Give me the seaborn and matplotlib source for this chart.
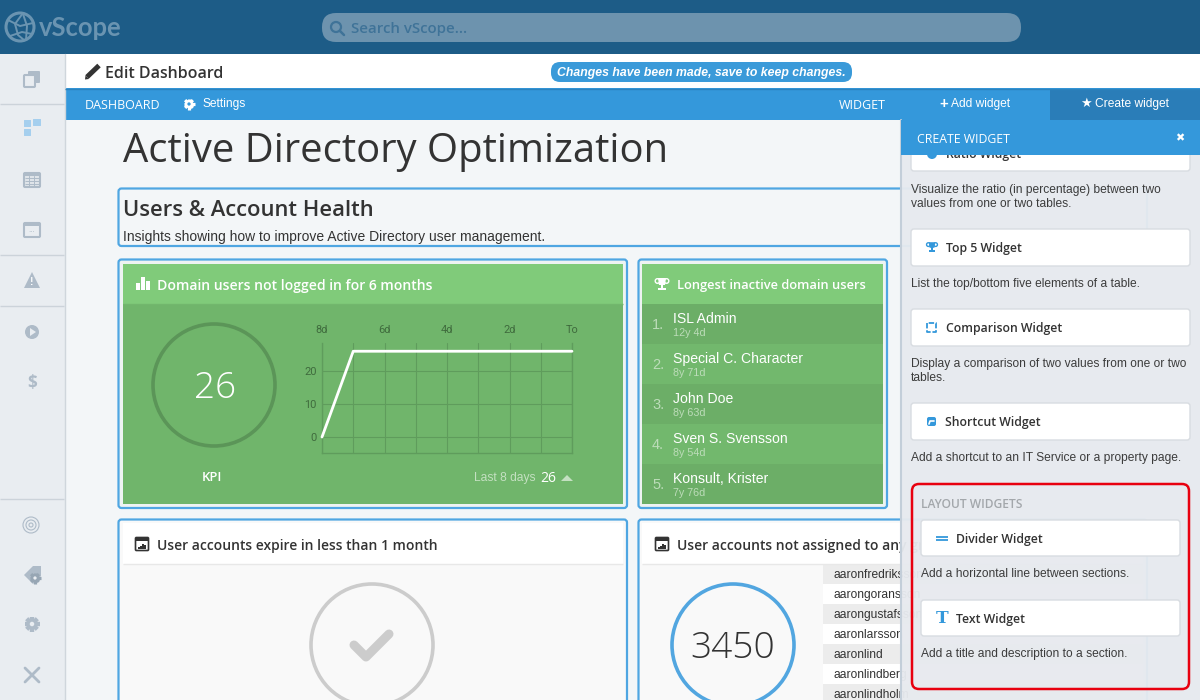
import matplotlib
matplotlib.use('Agg')
import matplotlib.pyplot as plt
from matplotlib.patches import Rectangle, FancyBboxPatch, Circle, Polygon
import numpy as np
import pandas as pd
import seaborn as sns

# Chart data
days_ago = [8, 7, 6, 5, 4, 3, 2, 1, 0]
users_not_logged_in = [0, 26, 26, 26, 26, 26, 26, 26, 26]
x_tick_days = [8, 6, 4, 2, 0]
x_tick_labels = ['8d', '6d', '4d', '2d', 'To']
y_ticks = [0, 10, 20]

# Top 5 list
top_names = ['ISL Admin', 'Special C. Character', 'John Doe', 'Sven S. Svensson', 'Konsult, Krister']
top_ages = ['12y 4d', '8y 71d', '8y 63d', '8y 54d', '7y 76d']
table_names = ['aaronfredriksson', 'aarongoransson', 'aarongustafsson', 'aaronlarsson',
               'aaronlind', 'aaronlindberg', 'aaronlindholm']

BLUE = '#3498db'
CARD_EDGE = '#4fa6e2'
HEAD_GREEN = '#80cb7a'
BODY_GREEN = '#70b56b'
ICON = '#aebbc8'
DARK = '#333333'
BODY_TEXT = '#3c3c3c'
OPEN = 'Open Sans'
ARIAL = 'Liberation Sans'

sns.set_theme(style='white')

fig = plt.figure(figsize=(12, 7), dpi=100, facecolor='#f3f6f8')
ax = fig.add_axes([0, 0, 1, 1])
ax.set_xlim(0, 1200)
ax.set_ylim(700, 0)
ax.axis('off')


def rect(x0, y0, x1, y1, color, z=1, alpha=None):
    ax.add_patch(Rectangle((x0, y0), x1 - x0, y1 - y0, fc=color, ec='none', zorder=z, alpha=alpha))


def rbox(x0, y0, x1, y1, fc, ec='none', lw=0, r=4, z=1):
    ax.add_patch(FancyBboxPatch((x0, y0), x1 - x0, y1 - y0, boxstyle=f'round,pad=0,rounding_size={r}',
                                fc=fc, ec=ec, lw=lw, zorder=z))


def txt(x, y, s, px, color=DARK, family=ARIAL, z=5, ha='left', **kw):
    # px sizes are converted for dpi 100, both fonts sit a bit high when centred
    y = y + (px * 0.12 if family == OPEN else 0.7)
    ax.text(x, y, s, fontsize=px * 0.72, color=color, family=family, ha=ha, va='center', zorder=z, **kw)


def hline(x0, x1, y, color, lw=1, z=2):
    ax.plot([x0, x1], [y, y], color=color, lw=lw, zorder=z, solid_capstyle='butt')


def ring(cx, cy, r, color, lw, z=3):
    ax.add_patch(Circle((cx, cy), r, fc='none', ec=color, lw=lw, zorder=z))


def gear(x, y, r, color, hole, z=5):
    ax.add_patch(Circle((x, y), r * 0.75, fc=color, ec='none', zorder=z))
    for a in np.arange(0, np.pi, np.pi / 4):
        dx, dy = r * np.cos(a), r * np.sin(a)
        ax.plot([x - dx, x + dx], [y - dy, y + dy], color=color, lw=r * 0.42, zorder=z, solid_capstyle='butt')
    ax.add_patch(Circle((x, y), r * 0.3, fc=hole, ec='none', zorder=z + 0.5))


def trophy(x, y, color, s=1.0, z=5):
    ax.add_patch(Polygon([(x - 4 * s, y - 6 * s), (x + 4 * s, y - 6 * s), (x + 3 * s, y + s), (x - 3 * s, y + s)],
                         fc=color, ec='none', zorder=z))
    ring(x - 4.5 * s, y - 3 * s, 2.3 * s, color, 1, z)
    ring(x + 4.5 * s, y - 3 * s, 2.3 * s, color, 1, z)
    rect(x - s, y, x + s, y + 4 * s, color, z)
    rect(x - 4 * s, y + 4 * s, x + 4 * s, y + 6 * s, color, z)


def cal_icon(x, y):
    rbox(x - 6.5, y - 6.5, x + 6.5, y + 6.5, 'white', '#333333', 1.2, 1, 6)
    rect(x - 6.5, y - 6.5, x + 6.5, y - 3, '#333333', 6)
    for dx, h in [(-3, 2), (-1, 3), (1, 5), (3, 4)]:
        rect(x + dx - 0.6, y + 5 - h, x + dx + 0.6, y + 5, '#333333', 6)


# --- top bar
rect(0, 0, 1200, 54, '#1d5c87')
rbox(322, 13, 1021, 42, '#6d93ae', r=14)
ring(336, 27, 5, '#3f7398', 1.6)
ax.plot([340, 344], [31, 35], color='#3f7398', lw=1.8, zorder=3)
txt(351, 27, 'Search vScope...', 15, '#3f7398', OPEN, weight='semibold')
ring(20, 27, 14, '#6a94b1', 2.2)
ax.plot([8, 20, 33], [20, 26, 23], color='#6a94b1', lw=1.4, zorder=3)
ax.plot([10, 22, 32], [36, 32, 34], color='#6a94b1', lw=1.4, zorder=3)
ax.plot([23, 15, 18, 24], [13, 24, 35, 40], color='#6a94b1', lw=1.4, zorder=3)
ax.plot([23, 27, 26], [14, 26, 40], color='#6a94b1', lw=1.4, zorder=3)
txt(39, 27, 'vScope', 25.5, '#6a94b1', 'Lato', weight='bold')

# --- sidebar
rect(0, 54, 65, 700, '#e9edf1')
ax.plot([64.5, 64.5], [54, 700], color='#cfd6dc', lw=1, zorder=2)
for yy in [104, 255, 306, 499]:
    hline(0, 64, yy, '#ccd3da')
rbox(28, 71, 40, 83, ICON, r=1, z=3)
rbox(24, 75, 35, 87, '#e9edf1', ICON, 1.5, 1, 3)
rbox(24, 120, 31, 127, '#a5cfee', r=0.5, z=3)
rbox(33, 119, 41, 126, '#a5cfee', r=0.5, z=3)
rbox(24, 129, 31, 136, '#a5cfee', r=0.5, z=3)
rbox(24, 173, 40, 187, '#dfe4e9', ICON, 1.5, 1, 3)
rect(24, 173, 40, 176, ICON, 4)
for yy in [178, 181, 184]:
    hline(25, 39, yy, ICON, 0.7, 4)
for xx in [29, 34]:
    ax.plot([xx, xx], [176, 187], color=ICON, lw=0.7, zorder=4)
rbox(24, 223, 40, 237, '#e9edf1', ICON, 1.5, 1, 3)
rect(24, 223, 40, 226, ICON, 4)
txt(32, 230, '...', 8, ICON, ha='center')
ax.add_patch(Polygon([(32, 272), (40, 288), (24, 288)], fc=ICON, ec='none', zorder=3))
txt(32, 281, '!', 10, 'white', ha='center', weight='bold')
ax.add_patch(Circle((32, 332), 7, fc=ICON, ec='none', zorder=3))
ax.add_patch(Polygon([(30, 328), (36, 332), (30, 336)], fc='#e9edf1', ec='none', zorder=4))
txt(32, 381, '$', 17, ICON, ha='center', weight='bold', family=OPEN)
for r in [8, 5, 2]:
    ring(31, 525, r, ICON, 0.8)
ax.add_patch(Polygon([(24, 575), (33, 566), (41, 566), (41, 576), (33, 584)], fc=ICON, ec='none', zorder=3))
gear(35, 578, 5.5, '#97a6b4', '#e9edf1')
gear(32, 624, 7.5, ICON, '#e9edf1')
ax.plot([25, 39], [668, 682], color=ICON, lw=2, zorder=3)
ax.plot([39, 25], [668, 682], color=ICON, lw=2, zorder=3)

# --- edit bar and nav
rect(65, 54, 1200, 88, 'white')
ax.plot([87, 99], [77, 65.5], color=DARK, lw=3.6, zorder=5, solid_capstyle='butt')
ax.add_patch(Polygon([(85, 79.5), (85.5, 75.5), (89, 79)], fc=DARK, ec='none', zorder=5))
txt(105, 72, 'Edit Dashboard', 16, DARK, OPEN, weight='semibold')
rbox(551, 62, 852, 82, '#3a9ad9', r=9)
txt(701.5, 72, 'Changes have been made, save to keep changes.', 12.2, 'white', ha='center',
    weight='bold', style='italic')
rect(65, 88, 1200, 120, BLUE)
hline(65, 1200, 88.5, '#2b83bf')
rect(1050, 90, 1200, 120, '#2a7db8')
txt(85, 104, 'DASHBOARD', 12.5, 'white', OPEN)
gear(189, 104, 5.5, 'white', BLUE)
txt(203, 103.5, 'Settings', 12, 'white')
txt(839, 104, 'WIDGET', 12.5, 'white', OPEN)
txt(944, 103, '+', 15, 'white', ha='center', weight='bold')
txt(951, 103.5, 'Add widget', 12, 'white')
txt(1086, 103, '\u2605', 13, 'white', 'DejaVu Sans', ha='center')
txt(1095, 103.5, 'Create widget', 12, 'white')

# --- page
txt(123, 147, 'Active Directory Optimization', 40, DARK, OPEN)
rbox(118.5, 188.5, 1147, 246, '#f3f6f8', CARD_EDGE, 1.6, 3)
txt(123, 208, 'Users & Account Health', 22, DARK, OPEN, weight='semibold')
txt(123, 236, 'Insights showing how to improve Active Directory user management.', 13.95, DARK)

# card 1
rbox(118.5, 259.5, 627, 508, '#eef3f2', CARD_EDGE, 1.6, 3)
rect(123, 264, 623, 304, HEAD_GREEN, 2)
rect(123, 304, 623, 504, BODY_GREEN, 2)
hline(123, 623, 304, '#72b76d', 1, 3)
for x0, h in [(136, 7), (141, 13), (146, 9)]:
    rect(x0, 290 - h, x0 + 4, 290, 'white', 4)
txt(157, 284, 'Domain users not logged in for 6 months', 14, 'white', OPEN, weight='semibold')
ring(214, 385, 61, '#5b9558', 2.6)
txt(215, 384, '26', 37, 'white', OPEN, ha='center', weight='light')
txt(212, 476, 'KPI', 13, 'white', OPEN, ha='center', weight='semibold')
txt(474, 477, 'Last 8 days', 12, '#c4e0c1')
txt(540, 477, '26', 14, 'white', OPEN)
ax.add_patch(Polygon([(561, 481), (567, 475), (573, 481)], fc='#c4e0c1', ec='none', zorder=5))

# card 2
rbox(638.5, 259.5, 887, 508, '#eef3f2', CARD_EDGE, 1.6, 3)
rect(642, 264, 883, 304, HEAD_GREEN, 2)
trophy(662, 284, 'white')
txt(677, 284, 'Longest inactive domain users', 12.9, 'white', OPEN, weight='semibold')
for i, (name, age) in enumerate(zip(top_names, top_ages)):
    y0 = 304 + i * 40
    rect(642, y0, 883, y0 + 40, '#6cae67' if i % 2 == 0 else '#72b86d', 2)
    txt(652, y0 + 20, f'{i + 1}.', 14.5, '#bcdcb9')
    txt(673, y0 + 14, name, 14, 'white')
    txt(673, y0 + 28, age, 10.8, '#bcdcb9')

# card 3
rbox(118.5, 519.5, 627, 720, '#f9f9f9', CARD_EDGE, 1.6, 3)
rect(123, 523, 623, 564, 'white', 2)
hline(123, 623, 564, '#e8e8e8', 1, 3)
cal_icon(142, 544)
txt(157, 544, 'User accounts expire in less than 1 month', 13.9, DARK, OPEN, weight='semibold')
ring(372, 645, 61, '#cccccc', 2.6)
ax.plot([354, 366, 389], [645, 657, 634], color='#cccccc', lw=6.5, zorder=4, solid_joinstyle='round',
        solid_capstyle='round')

# card 4, runs underneath the side panel
rbox(638.5, 519.5, 1147, 720, '#f9f9f9', CARD_EDGE, 1.6, 3)
rect(642, 523, 1143, 564, 'white', 2)
hline(642, 1143, 564, '#e8e8e8', 1, 3)
cal_icon(662, 544)
txt(677, 544, 'User accounts not assigned to any group', 13.9, DARK, OPEN, weight='semibold')
ring(733, 645, 61, '#52a6e0', 2.6)
txt(733, 644, '3450', 37, DARK, OPEN, ha='center', weight='light')
for i, name in enumerate(table_names):
    y0 = 564 + i * 20
    rect(823, y0, 1143, y0 + 20, '#ececec' if i % 2 == 0 else 'white', 2)
    txt(833, y0 + 10, name, 12, DARK, z=3)

# --- side panel
rect(901, 120, 1200, 700, '#e7eaef', 10, alpha=0.96)
ax.plot([901, 901], [120, 700], color='#c3ced9', lw=1.5, zorder=11)


def widget_button(x0, x1, y0, y1, label, lx):
    rbox(x0, y0, x1, y1, 'white', '#d8dce1', 1, 3, 11)
    txt(lx, (y0 + y1) / 2, label, 12.2, DARK, OPEN, z=12, weight='semibold')


widget_button(911, 1190, 135, 171, 'Ratio Widget', 946)
ax.add_patch(Circle((932, 154), 5, fc=BLUE, ec='none', zorder=12))
txt(911, 189, 'Visualize the ratio (in percentage) between two', 12, BODY_TEXT, z=12)
txt(911, 203, 'values from one or two tables.', 12, BODY_TEXT, z=12)

widget_button(911, 1190, 229, 266, 'Top 5 Widget', 946)
trophy(932, 247, BLUE, 0.8, 12)
txt(911, 283, 'List the top/bottom five elements of a table.', 12, BODY_TEXT, z=12)

widget_button(911, 1190, 309, 346, 'Comparison Widget', 946)
ax.plot([927, 927, 936, 936, 927], [323, 332, 332, 323, 323], color=BLUE, lw=1.3, ls=(0, (3, 1)), zorder=12)
txt(911, 363, 'Display a comparison of two values from one or two', 12, BODY_TEXT, z=12)
txt(911, 377, 'tables.', 12, BODY_TEXT, z=12)

widget_button(911, 1190, 403, 440, 'Shortcut Widget', 945)
rbox(927, 417, 936, 426, BLUE, r=2, z=12)
ax.plot([929, 930, 934], [424, 421, 421], color='white', lw=1.2, zorder=13)
txt(911, 457, 'Add a shortcut to an IT Service or a property page.', 12, BODY_TEXT, z=12)

rbox(912, 484, 1189, 689, 'none', '#e8000f', 1.8, 7, 12)
txt(921, 503, 'LAYOUT WIDGETS', 12, '#a3a7ab', OPEN, z=12, weight='semibold')
widget_button(921, 1180, 520, 556, 'Divider Widget', 956)
hline(936, 948, 536.5, BLUE, 1.3, 12)
hline(936, 948, 539.5, BLUE, 1.3, 12)
txt(921, 573, 'Add a horizontal line between sections.', 12, BODY_TEXT, z=12)
widget_button(921, 1180, 600, 636, 'Text Widget', 956)
txt(942, 618, 'T', 17, BLUE, 'DejaVu Serif', z=12, ha='center', weight='bold')
txt(921, 653, 'Add a title and description to a section.', 12, BODY_TEXT, z=12)

rect(901, 120, 1200, 155, BLUE, 13)
txt(917, 138, 'CREATE WIDGET', 12.3, 'white', OPEN, z=14)
txt(1180, 138, '\u2716', 11, 'white', 'DejaVu Sans', z=14, ha='center')

# --- KPI trend chart
trend = pd.DataFrame({'days_ago': days_ago, 'users': users_not_logged_in})
chart = fig.add_axes([322 / 1200, 1 - 453 / 700, 250 / 1200, 110 / 700])
chart.patch.set_alpha(0)
sns.lineplot(data=trend, x='days_ago', y='users', color='white', linewidth=2, ax=chart, clip_on=False, zorder=5)
chart.set_xlim(8, 0)
chart.set_ylim(-4.85, 28.5)
chart.set_xlabel('')
chart.set_ylabel('')
chart.set_yticks(y_ticks)
chart.set_xticks(days_ago, minor=True)
chart.set_xticks(x_tick_days)
chart.set_xticklabels(x_tick_labels)
chart.xaxis.tick_top()
chart.tick_params(axis='both', which='both', length=0, labelsize=11 * 0.72, labelcolor='#3f6b3d', pad=6)
chart.tick_params(axis='y', pad=4)
for label in chart.get_xticklabels() + chart.get_yticklabels():
    label.set_family('Roboto')
chart.grid(True, which='both', color='#5f9c5c', linewidth=0.8)
chart.set_axisbelow(True)
chart.spines['top'].set_visible(False)
for side in ['left', 'right', 'bottom']:
    chart.spines[side].set_visible(True)
    chart.spines[side].set_color('#5f9c5c')
    chart.spines[side].set_linewidth(1)

fig.savefig('out.png', dpi=100)
